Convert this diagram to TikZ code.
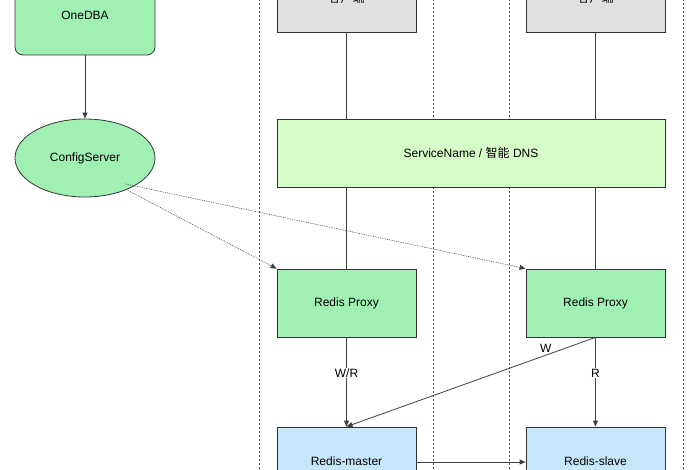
\documentclass[tikz,border=0pt]{standalone}
\usepackage{fontspec}
\setmainfont{Liberation Sans}
\newfontfamily\cjk{Noto Sans CJK SC}
\usetikzlibrary{shapes.geometric,arrows.meta}
\begin{document}
\begin{tikzpicture}[x=1pt,y=-1pt,
  box/.style={draw=black!80,line width=0.8pt,minimum width=139pt,minimum height=68pt,inner sep=0pt,font=\fontsize{12}{14}\selectfont},
  gray/.style={box,fill=black!12},
  ln/.style={draw=black!75,line width=0.8pt},
  arr/.style={ln,-{Triangle[width=5pt,length=6pt]}},
  lab/.style={font=\fontsize{12}{14}\selectfont},
  sep/.style={draw=black!70,line width=0.6pt,dash pattern=on 2pt off 2pt}]
\useasboundingbox (0,0) rectangle (700,470);
\clip (0,0) rectangle (700,470);
\draw[sep] (259,-5) -- (259,475);
\draw[sep] (433,-5) -- (433,475);
\draw[sep] (509,-5) -- (509,475);
\draw[sep] (683,-5) -- (683,475);
\node[gray] (c1) at (346.5,-2) {\cjk 客户端};
\node[gray] (c2) at (595.5,-2) {\cjk 客户端};
\node[box,fill={rgb,255:red,214;green,252;blue,200},minimum width=388pt] (sn) at (471,153) {ServiceName / {\cjk 智能} DNS};
\node[box,fill={rgb,255:red,160;green,240;blue,180}] (p1) at (346.5,303) {Redis Proxy};
\node[box,fill={rgb,255:red,160;green,240;blue,180}] (p2) at (595.5,303) {Redis Proxy};
\node[box,fill={rgb,255:red,198;green,230;blue,252}] (m) at (346.5,461) {Redis-master};
\node[box,fill={rgb,255:red,198;green,230;blue,252}] (s) at (595.5,461) {Redis-slave};
\node[box,rounded corners=8pt,fill={rgb,255:red,160;green,240;blue,180},minimum width=140pt,minimum height=80pt] (db) at (85,15) {OneDBA};
\node[ellipse,draw=black!80,line width=0.8pt,fill={rgb,255:red,160;green,240;blue,180},minimum width=140pt,minimum height=78pt,lab] (cs) at (85,158) {ConfigServer};
\draw[arr] (db) -- (cs);
\draw[ln] (c1.south) -- (sn.north -| c1.south);
\draw[ln] (c2.south) -- (sn.north -| c2.south);
\draw[ln] (sn.south -| p1.north) -- (p1.north);
\draw[ln] (sn.south -| p2.north) -- (p2.north);
\draw[arr,densely dotted,line width=0.6pt] (cs.south east) ++(-8,4) -- (p1.north west);
\draw[arr,densely dotted,line width=0.6pt] (cs.south east) ++(-10,-2) -- (p2.north west);
\draw[arr] (p1.south) -- node[pos=0.4,fill=white,inner sep=1pt,lab]{W/R} (m.north);
\draw[arr] (p2.south) -- node[pos=0.4,fill=white,inner sep=1pt,lab]{R} (s.north);
\draw[arr] (p2.south) -- node[pos=0.2,above,inner sep=2pt,lab]{W} (m.north);
\draw[arr] (m.east |- 0,462) -- (s.west |- 0,462);
\end{tikzpicture}
\end{document}
